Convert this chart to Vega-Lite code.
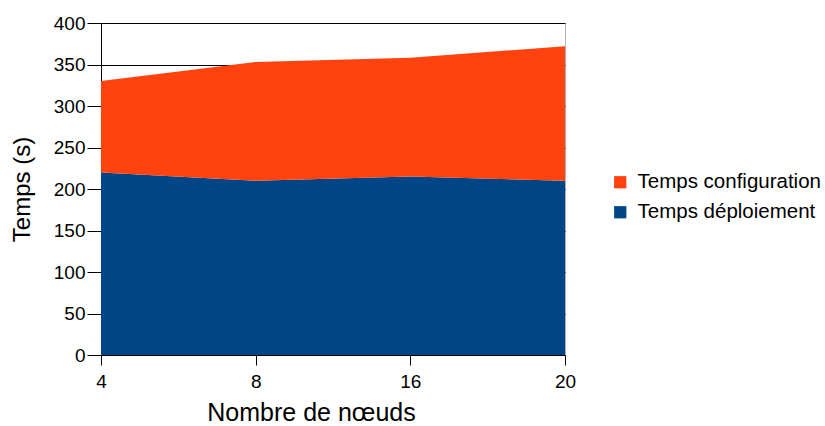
{
  "$schema": "https://vega.github.io/schema/vega-lite/v6.json",
  "width": 464,
  "height": 332,
  "autosize": {"type": "none"},
  "padding": {"left": 101, "top": 23, "right": 260, "bottom": 71},
  "background": "white",
  "config": {
    "font": "Liberation Sans",
    "view": {"stroke": "#b3b3b3", "strokeWidth": 1}
  },
  "data": {
    "values": [
      {"noeuds": "4", "serie": "Temps déploiement", "ordre": 1, "temps": 220},
      {"noeuds": "8", "serie": "Temps déploiement", "ordre": 1, "temps": 210},
      {"noeuds": "16", "serie": "Temps déploiement", "ordre": 1, "temps": 215},
      {"noeuds": "20", "serie": "Temps déploiement", "ordre": 1, "temps": 210},
      {"noeuds": "4", "serie": "Temps configuration", "ordre": 2, "temps": 110},
      {"noeuds": "8", "serie": "Temps configuration", "ordre": 2, "temps": 143},
      {"noeuds": "16", "serie": "Temps configuration", "ordre": 2, "temps": 143},
      {"noeuds": "20", "serie": "Temps configuration", "ordre": 2, "temps": 162}
    ]
  },
  "mark": {"type": "area", "opacity": 1},
  "encoding": {
    "x": {
      "field": "noeuds",
      "type": "ordinal",
      "sort": ["4", "8", "16", "20"],
      "scale": {"type": "point", "padding": 0},
      "axis": {
        "title": "Nombre de nœuds",
        "titleFontSize": 25,
        "titleFontWeight": "normal",
        "titleColor": "black",
        "titlePadding": 9,
        "titleX": 210,
        "labelAngle": 0,
        "labelFontSize": 19,
        "labelColor": "black",
        "labelPadding": 7,
        "domainColor": "black",
        "tickColor": "black",
        "tickSize": 10,
        "grid": false
      }
    },
    "y": {
      "field": "temps",
      "type": "quantitative",
      "stack": "zero",
      "scale": {"domain": [0, 400], "nice": false},
      "axis": {
        "title": "Temps (s)",
        "titleFontSize": 24,
        "titleFontWeight": "normal",
        "titleColor": "black",
        "titlePadding": 19,
        "values": [0, 50, 100, 150, 200, 250, 300, 350, 400],
        "labelFontSize": 19,
        "labelColor": "black",
        "labelPadding": 2,
        "domainColor": "black",
        "tickColor": "black",
        "tickSize": 14,
        "grid": true,
        "gridColor": "black",
        "gridOpacity": 1
      }
    },
    "color": {
      "field": "serie",
      "type": "nominal",
      "scale": {
        "domain": ["Temps configuration", "Temps déploiement"],
        "range": ["#ff420e", "#004586"]
      },
      "legend": {
        "title": null,
        "orient": "none",
        "legendX": 509,
        "legendY": 149,
        "symbolType": "square",
        "symbolSize": 150,
        "symbolOpacity": 1,
        "symbolStrokeWidth": 0,
        "labelFontSize": 20.5,
        "labelLimit": 400,
        "labelColor": "black",
        "labelOffset": 7,
        "rowPadding": 9
      }
    },
    "order": {"field": "ordre", "type": "quantitative"}
  }
}
